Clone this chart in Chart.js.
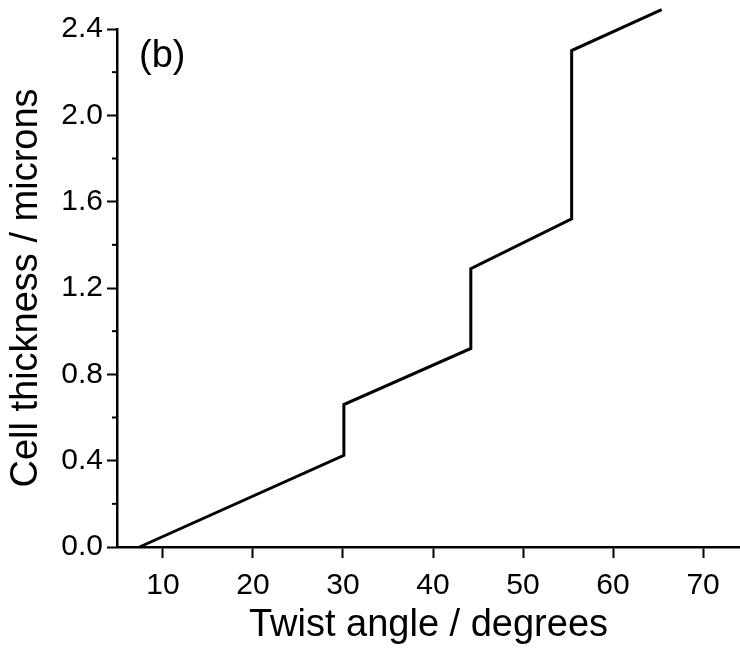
<!DOCTYPE html>
<html lang="en">
<head>
    <meta charset="UTF-8">
    <title>Cell thickness vs twist angle</title>
    <script src="https://cdn.jsdelivr.net/npm/chart.js"></script>
    <style>
        html, body { margin: 0; padding: 0; background: #fff; }
        .chart-box { width: 740px; height: 654px; }
    </style>
</head>
<body>
    <div class="chart-box">
        <canvas id="thicknessChart"></canvas>
    </div>

    <script>
        // values (degrees, microns)
        const twistAngle = [7.4, 30.1, 30.1, 44.2, 44.2, 55.4, 55.4, 65.4];
        const cellThickness = [0.0, 0.425, 0.66, 0.92, 1.29, 1.52, 2.30, 2.49];
        const xTicks = [10, 20, 30, 40, 50, 60, 70];
        const yTicks = [0.0, 0.4, 0.8, 1.2, 1.6, 2.0, 2.4];
        const yMinorTicks = [0.2, 0.6, 1.0, 1.4, 1.8, 2.2];

        const fontFamily = '"Liberation Sans", Arial, sans-serif';

        // minor ticks on the y axis and the "(b)" panel label
        const extras = {
            id: 'extras',
            afterDraw(chart) {
                const ctx = chart.ctx;
                const y = chart.scales.y;
                ctx.save();
                ctx.strokeStyle = '#000';
                ctx.lineWidth = 2;
                yMinorTicks.forEach(v => {
                    const py = y.getPixelForValue(v);
                    ctx.beginPath();
                    ctx.moveTo(y.right - 5, py);
                    ctx.lineTo(y.right, py);
                    ctx.stroke();
                });
                ctx.fillStyle = '#000';
                ctx.font = '38px ' + fontFamily;
                ctx.textBaseline = 'alphabetic';
                ctx.fillText('(b)', 139, 67);
                ctx.restore();
            }
        };

        const ctx = document.getElementById('thicknessChart').getContext('2d');
        new Chart(ctx, {
            type: 'line',
            data: {
                datasets: [{
                    data: twistAngle.map((x, i) => ({ x: x, y: cellThickness[i] })),
                    borderColor: '#000',
                    borderWidth: 3,
                    pointRadius: 0,
                    tension: 0,
                    clip: false
                }]
            },
            options: {
                responsive: true,
                maintainAspectRatio: false,
                animation: false,
                layout: { padding: { top: 29, right: 0, bottom: 0, left: 0 } },
                plugins: {
                    legend: { display: false },
                    tooltip: { enabled: false }
                },
                scales: {
                    x: {
                        type: 'linear',
                        min: 4.9,
                        max: 74.1,
                        afterBuildTicks: s => { s.ticks = xTicks.map(v => ({ value: v })); },
                        afterFit: s => { s.height = 107; },
                        border: { color: '#000', width: 2.5 },
                        grid: { drawOnChartArea: false, tickLength: 11, tickColor: '#000', tickWidth: 2 },
                        ticks: {
                            color: '#000',
                            padding: 10,
                            maxRotation: 0,
                            font: { family: fontFamily, size: 30 }
                        },
                        title: {
                            display: true,
                            text: 'Twist angle / degrees',
                            color: '#000',
                            padding: { top: 0, bottom: 6 },
                            font: { family: fontFamily, size: 38, lineHeight: 1.2 }
                        }
                    },
                    y: {
                        min: 0,
                        max: 2.4,
                        afterBuildTicks: s => { s.ticks = yTicks.map(v => ({ value: v })); },
                        afterFit: s => { s.width = 117; },
                        border: { color: '#000', width: 2.5 },
                        grid: { drawOnChartArea: false, tickLength: 10, tickColor: '#000', tickWidth: 2 },
                        ticks: {
                            color: '#000',
                            padding: 4,
                            font: { family: fontFamily, size: 30 },
                            callback: v => v.toFixed(1)
                        },
                        title: {
                            display: true,
                            text: 'Cell thickness / microns',
                            color: '#000',
                            padding: { top: 4, bottom: 0 },
                            font: { family: fontFamily, size: 38, lineHeight: 1.2 }
                        }
                    }
                }
            },
            plugins: [extras]
        });
    </script>
</body>
</html>
